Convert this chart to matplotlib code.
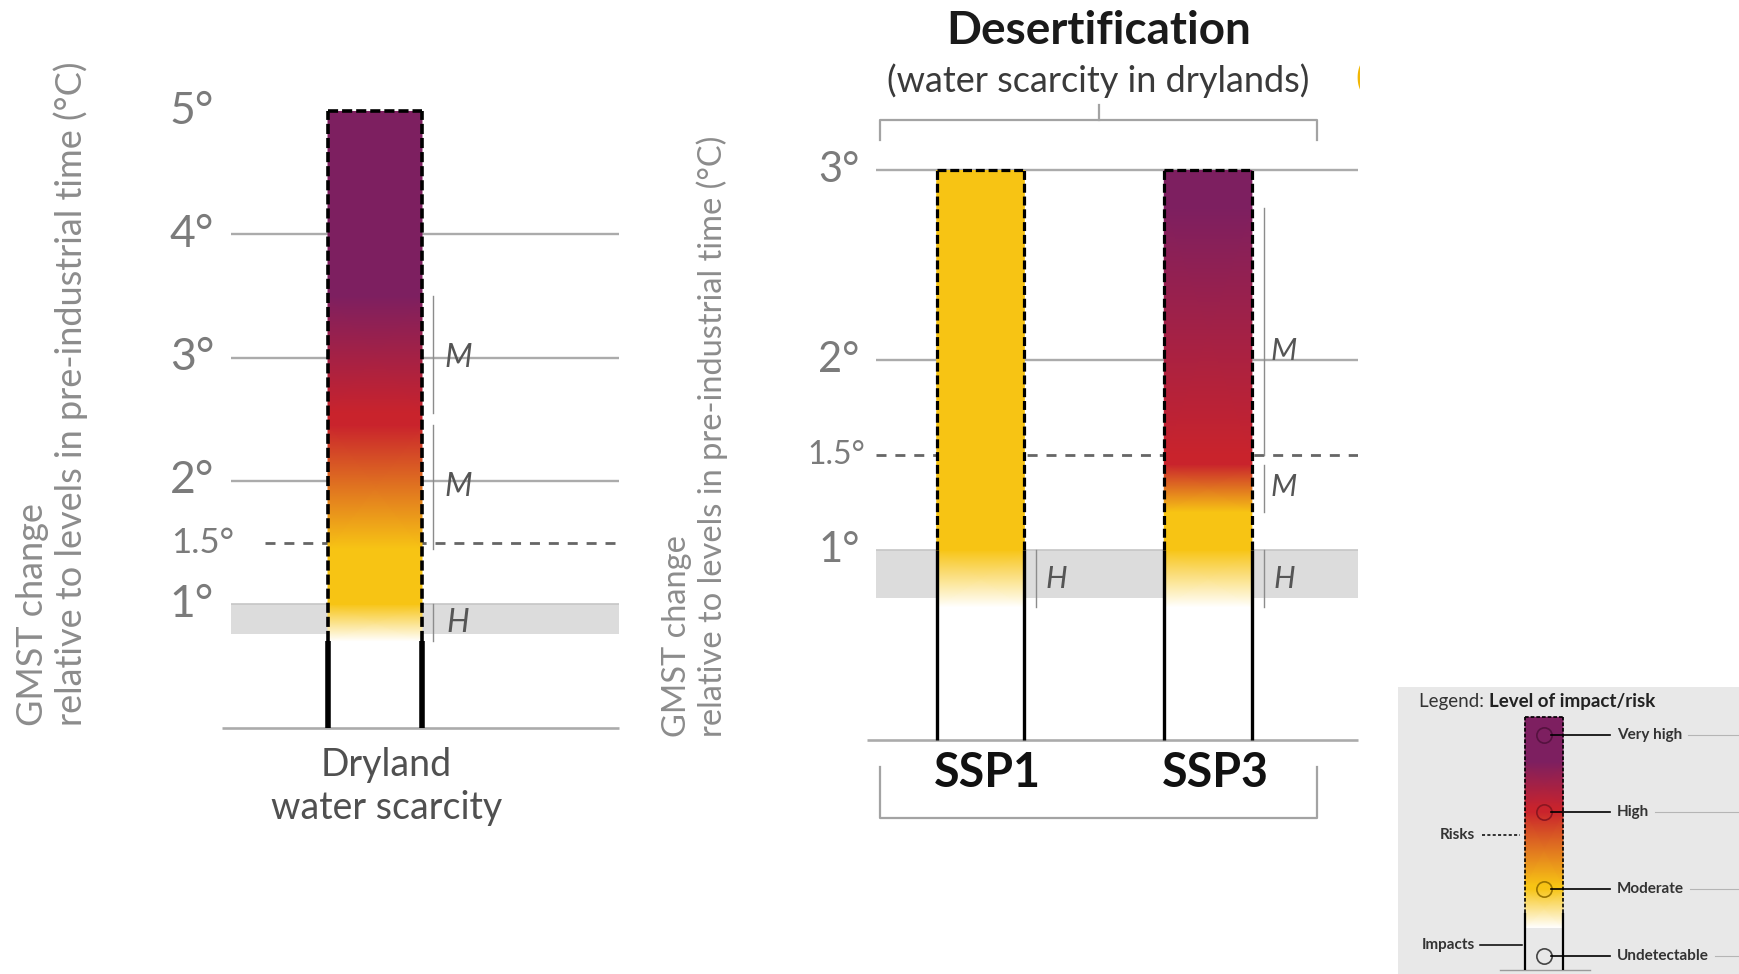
import numpy as np
import matplotlib
matplotlib.use('Agg')
import matplotlib.pyplot as plt
from matplotlib.colors import ListedColormap
from matplotlib.transforms import ScaledTranslation

plt.rcParams['font.family'] = ['Lato', 'DejaVu Sans']

# ---- data ----
risk_colors = ['#ffffff', '#f7c414', '#c9232c', '#7d1f60']   # undetectable, moderate, high, very high
risk_levels = ['Undetectable', 'Moderate', 'High', 'Very high']

# left panel: dryland water scarcity (GMST change, deg C)
# transitions: (from, to, confidence, label height)
dry_ticks = [1, 1.5, 2, 3, 4, 5]
dry_grid = [2, 3, 4]
dry_label = 'Dryland\nwater scarcity'
dry_top = 5.0
dry_split = 0.7          # solid (impacts) below, dashed (risks) above
dry_trans = [(0.70, 1.00, 'H', 0.85), (1.45, 2.45, 'M', 1.95), (2.55, 3.50, 'M', 3.0)]
dry_band = (0.76, 1.0)

# right panel: desertification under SSP1 / SSP3
ssp_ticks = [1, 1.5, 2, 3]
ssp_grid = [2, 3]
ssp_names = ['SSP1', 'SSP3']
ssp_top = [3.0, 3.0]
ssp_split = [1.0, 1.0]
ssp_trans = [
    [(0.70, 1.00, 'H', 0.85)],
    [(0.70, 1.00, 'H', 0.85), (1.20, 1.45, 'M', 1.33), (1.50, 2.80, 'M', 2.05)],
]
ssp_band = (0.75, 1.0)

# legend bar
legend_marker_y = [0.13, 1.0, 2.0, 3.0]
legend_trans = [(0.5, 1.0), (1.05, 2.0), (2.05, 2.65)]
legend_top = 3.23
legend_split = 0.69

W, H = 1739, 974
fig = plt.figure(figsize=(W / 100, H / 100), dpi=100)
cmap = ListedColormap(risk_colors)

GRID = '#ababab'
TICK = '#7b7b7b'


def px_axes(x0, y0, x1, y1, off=True):
    ax = fig.add_axes([x0 / W, 1 - y1 / H, (x1 - x0) / W, (y1 - y0) / H])
    if off:
        ax.set_axis_off()
    return ax


def px_shift(px):
    return ScaledTranslation(px / 100, 0, fig.dpi_scale_trans)


def level_stops(trans, top):
    ys, cs = [], []
    for i, tr in enumerate(trans):
        ys += [tr[0], tr[1]]
        cs += [i, i + 1]
    ys.append(top)
    cs.append(len(trans))
    return np.array(ys), np.array(cs)


def gradient(ax, x, w, trans, top, z=3):
    ys, cs = level_stops(trans, top)
    X = np.column_stack([np.full(len(ys), x - w / 2), np.full(len(ys), x + w / 2)])
    Y = np.column_stack([ys, ys])
    C = np.column_stack([cs, cs])
    ax.pcolormesh(X, Y, C, shading='gouraud', cmap=cmap, vmin=-0.5, vmax=3.5, zorder=z)


def outline(ax, x, w, bottom, split, top, lw_solid, lw_dash, dash):
    for xe in (x - w / 2, x + w / 2):
        ax.plot([xe, xe], [bottom, split], color='black', lw=lw_solid,
                solid_capstyle='butt', zorder=4, clip_on=False)
        ax.plot([xe, xe], [split, top], color='black', lw=lw_dash,
                linestyle=(0, dash), zorder=4, clip_on=False)
    ax.plot([x - w / 2, x + w / 2], [top, top], color='black', lw=lw_dash,
            linestyle=(0, dash), zorder=4, clip_on=False)


def draw_frame(ax, grid, ticks, band, x_grid, x_dash, tick_x, tick_x15, fs, fs15):
    yt = ax.get_yaxis_transform()
    ax.axhspan(band[0], band[1], xmin=x_grid, xmax=1, color='#dcdcdc', lw=0, zorder=1)
    ax.hlines(band[1], x_grid, 1, transform=yt, color='#c6c6c6', lw=1.2, zorder=1)
    ax.hlines(grid, x_grid, 1, transform=yt, color=GRID, lw=1.7, zorder=1, clip_on=False)
    ax.hlines(1.5, x_dash, 1, transform=yt, color='#666666', lw=2.0,
              linestyles=[(0, (3.6, 3.2))], zorder=1)
    ax.hlines(0, 0, 1, transform=yt, color=GRID, lw=1.9, zorder=1, clip_on=False)
    for t in ticks:
        small = t != int(t)
        ax.text(tick_x15 if small else tick_x, t, f'{t:g}°', transform=yt,
                ha='right', va='center', fontsize=fs15 if small else fs, color=TICK)


def draw_bar(ax, x, w, trans, top, split, lw_solid, lw_dash, dash, conf_px, lab_px, conf_fs):
    gradient(ax, x, w, trans, top)
    outline(ax, x, w, 0, split, top, lw_solid, lw_dash, dash)
    edge = x + w / 2
    for a, b, conf, ly in trans:
        ax.plot([edge, edge], [a, b], color='#8c8c8c', lw=1.0,
                transform=ax.transData + px_shift(conf_px), zorder=2)
        ax.text(edge, ly, conf, transform=ax.transData + px_shift(lab_px),
                ha='center', va='center', style='italic', fontsize=conf_fs, color='#555555', zorder=5)


# ---- left panel ----
ax1 = px_axes(222, 111, 619, 727.5)
ax1.set_xlim(-1.628, 2.596)
ax1.set_ylim(0, 5)
draw_frame(ax1, dry_grid, dry_ticks, dry_band, 0.022, 0.108, -0.02, 0.03, 32, 25)
draw_bar(ax1, 0, 1.0, dry_trans, dry_top, dry_split, 4.0, 2.6, (2.8, 1.1), 11, 36, 23)
ax1.text(0.12, -0.48, dry_label, ha='center', va='center', fontsize=27,
         color='#505050', linespacing=1.22)

ylab = 'GMST change\nrelative to levels in pre-industrial time (°C)'
fig.text(52 / W, 1 - 726 / H, ylab, rotation=90, rotation_mode='anchor', ha='left',
         va='center', fontsize=26, color='#8c8c8c', linespacing=1.12, multialignment='left')

# ---- right panel ----
ax2 = px_axes(867, 170, 1358, 740)
ax2.set_xlim(-0.499, 1.659)
ax2.set_ylim(0, 3)
draw_frame(ax2, ssp_grid, ssp_ticks, ssp_band, 0.018, 0.018, -0.015, -0.004, 30, 23)
for i, name in enumerate(ssp_names):
    draw_bar(ax2, i, 0.385, ssp_trans[i], ssp_top[i], ssp_split[i], 2.4, 2.3, (2.8, 1.2), 12, 32, 22)
    ax2.text(i + 0.03, -0.174, name, ha='center', va='center', fontsize=33.5,
             fontweight='bold', color='#111111')

fig.text(695 / W, 1 - 737 / H, ylab, rotation=90, rotation_mode='anchor', ha='left',
         va='center', fontsize=23.5, color='#8c8c8c', linespacing=1.15, multialignment='left')

mid = 0.5185
br = dict(color='#a3a3a3', lw=1.6, clip_on=False)
ax2.plot([-0.442, -0.442, 1.479, 1.479], [3.158, 3.263, 3.263, 3.158], **br)
ax2.plot([mid, mid], [3.263, 3.342], **br)
ax2.plot([-0.442, -0.442, 1.479, 1.479], [-0.142, -0.41, -0.41, -0.142], **br)

ax2.text(mid, 3.663, 'Desertification', ha='center', va='baseline', fontsize=33,
         fontweight='bold', color='#1a1a1a')
ax2.text(mid, 3.41, '(water scarcity in drylands)', ha='center', va='baseline',
         fontsize=26, color='#3a3a3a')

# next panel's title starts right at the cut edge
cut_ax = px_axes(1300, 40, 1360, 120)
cut_ax.set_xlim(0, 60)
cut_ax.set_ylim(0, 80)
cut_ax.text(55, 30, '(', ha='left', va='baseline', fontsize=26, color='#f2b705', clip_on=True)

# ---- legend ----
lg = px_axes(1398, 687, 1739, 974, off=False)
lg.set_facecolor('#e8e8e8')
for s in lg.spines.values():
    s.set_visible(False)
lg.set_xticks([])
lg.set_yticks([])
lg.set_xlim(0, 341)
lg.set_ylim(-0.104, 3.623)

gradient(lg, 146, 38, legend_trans, legend_top)
outline(lg, 146, 38, -0.052, legend_split, legend_top, 1.6, 1.2, (2.2, 1.2))
lg.plot([102, 192], [-0.052, -0.052], color='#9a9a9a', lw=1.0)

ring = ['#444444', '#9a7400', '#8a1620', '#55123f']
label_txt = []
for y, name, ec in zip(legend_marker_y, risk_levels, ring):
    lg.plot([146], [y], 'o', ms=11, mfc='none', mec=ec, mew=1.2, zorder=5)
    lg.plot([153, 212], [y, y], color='black', lw=1.2, zorder=5)
    label_txt.append(lg.text(219, y, name, ha='left', va='center', fontsize=11,
                             fontweight='bold', color='#333333'))

lg.text(42, 1.70, 'Risks', ha='left', va='center', fontsize=11, fontweight='bold', color='#333333')
lg.plot([84, 122], [1.70, 1.70], color='black', lw=1.1, linestyle=(0, (2, 1.5)))
lg.text(24, 0.273, 'Impacts', ha='left', va='center', fontsize=11, fontweight='bold', color='#333333')
lg.plot([82, 124], [0.273, 0.273], color='black', lw=1.1)

t1 = lg.text(21, 3.364, 'Legend: ', ha='left', va='baseline', fontsize=13.5, color='#333333')
lg.annotate('Level of impact/risk', xy=(1, 0), xycoords=t1, ha='left', va='bottom',
            fontsize=13.5, fontweight='bold', color='#222222')

fig.canvas.draw()
r = fig.canvas.get_renderer()
inv = lg.transData.inverted()
for t, y in zip(label_txt, legend_marker_y):
    x_end = inv.transform((t.get_window_extent(r).x1, 0))[0]
    lg.plot([x_end + 6, 341], [y, y], color='#b5b5b5', lw=0.8)

fig.savefig('out.png', dpi=100)
